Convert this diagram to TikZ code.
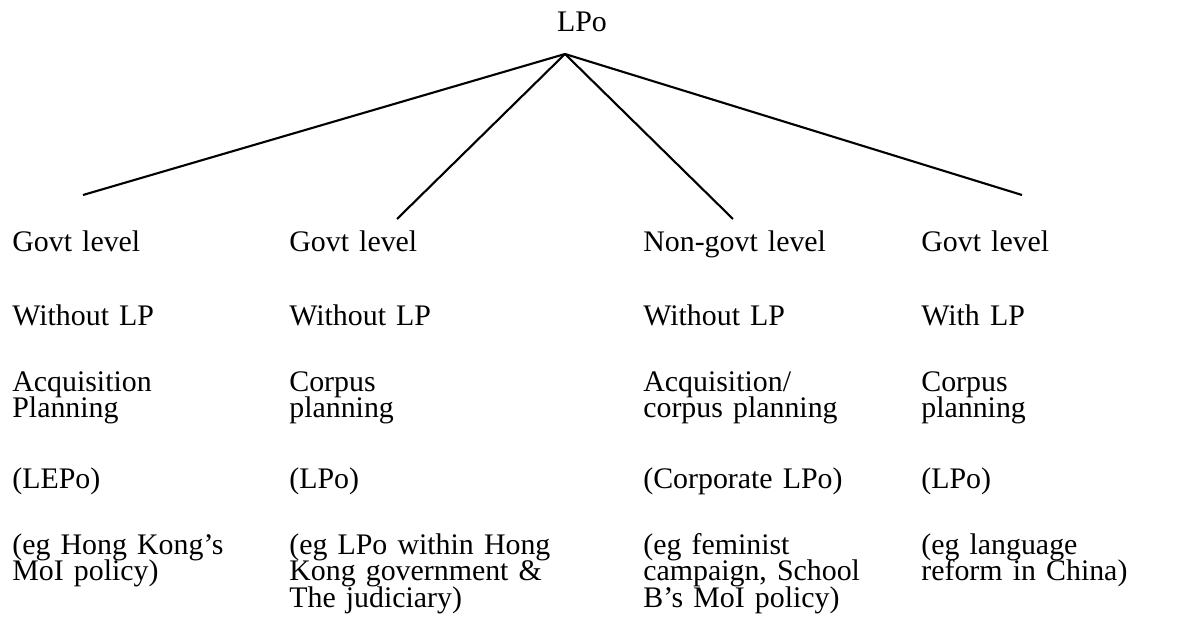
\documentclass[tikz,border=0pt]{standalone}
\usepackage{fontspec}
\setmainfont{Liberation Serif}
\usetikzlibrary{positioning}
\newcommand\cellfont{\fontsize{17}{14.8}\selectfont\lineskiplimit=-20pt\spaceskip=0.34em\relax}
\tikzset{
  cell/.style={anchor=base west,inner sep=0pt,align=left,font=\cellfont},
  branch/.style={draw,line width=1.2pt}
}
\begin{document}
\begin{tikzpicture}[x=0.02cm,y=-0.02cm]
  \useasboundingbox (0,0) rectangle (1181,618);
  % root and where the branches meet
  \node[cell,anchor=base] (root) at (582,32) {LPo};
  \coordinate (hub) at (565,54);
  \coordinate (end1) at (83,195);
  \coordinate (end2) at (397,219);
  \coordinate (end3) at (733,219);
  \coordinate (end4) at (1022,195);
  \foreach \e in {end1,end2,end3,end4}
    \draw[branch] (hub) -- (\e);
  % column 1 (multi-line cells sit on their last baseline)
  \node[cell] (gov1)  at (12,252) {Govt level};
  \node[cell] (lp1)   at (12,326) {Without LP};
  \node[cell] (plan1) at (12,418) {Acquisition\\Planning};
  \node[cell] (term1) at (12,488) {(LEPo)};
  \node[cell] (eg1)   at (12,581) {(eg Hong Kong’s\\MoI policy)};
  % column 2
  \node[cell] (gov2)  at (289,252) {Govt level};
  \node[cell] (lp2)   at (289,326) {Without LP};
  \node[cell] (plan2) at (289,418) {Corpus\\planning};
  \node[cell] (term2) at (289,488) {(LPo)};
  \node[cell] (eg2)   at (289,607) {(eg LPo within Hong\\Kong government \&\\The judiciary)};
  % column 3
  \node[cell] (gov3)  at (643,252) {Non-govt level};
  \node[cell] (lp3)   at (643,326) {Without LP};
  \node[cell] (plan3) at (643,418) {Acquisition/\\corpus planning};
  \node[cell] (term3) at (643,488) {(Corporate LPo)};
  \node[cell] (eg3)   at (643,607) {(eg feminist\\campaign, School\\B’s MoI policy)};
  % column 4
  \node[cell] (gov4)  at (921,252) {Govt level};
  \node[cell] (lp4)   at (921,326) {With LP};
  \node[cell] (plan4) at (921,418) {Corpus\\planning};
  \node[cell] (term4) at (921,488) {(LPo)};
  \node[cell] (eg4)   at (921,581) {(eg language\\reform in China)};
\end{tikzpicture}
\end{document}
